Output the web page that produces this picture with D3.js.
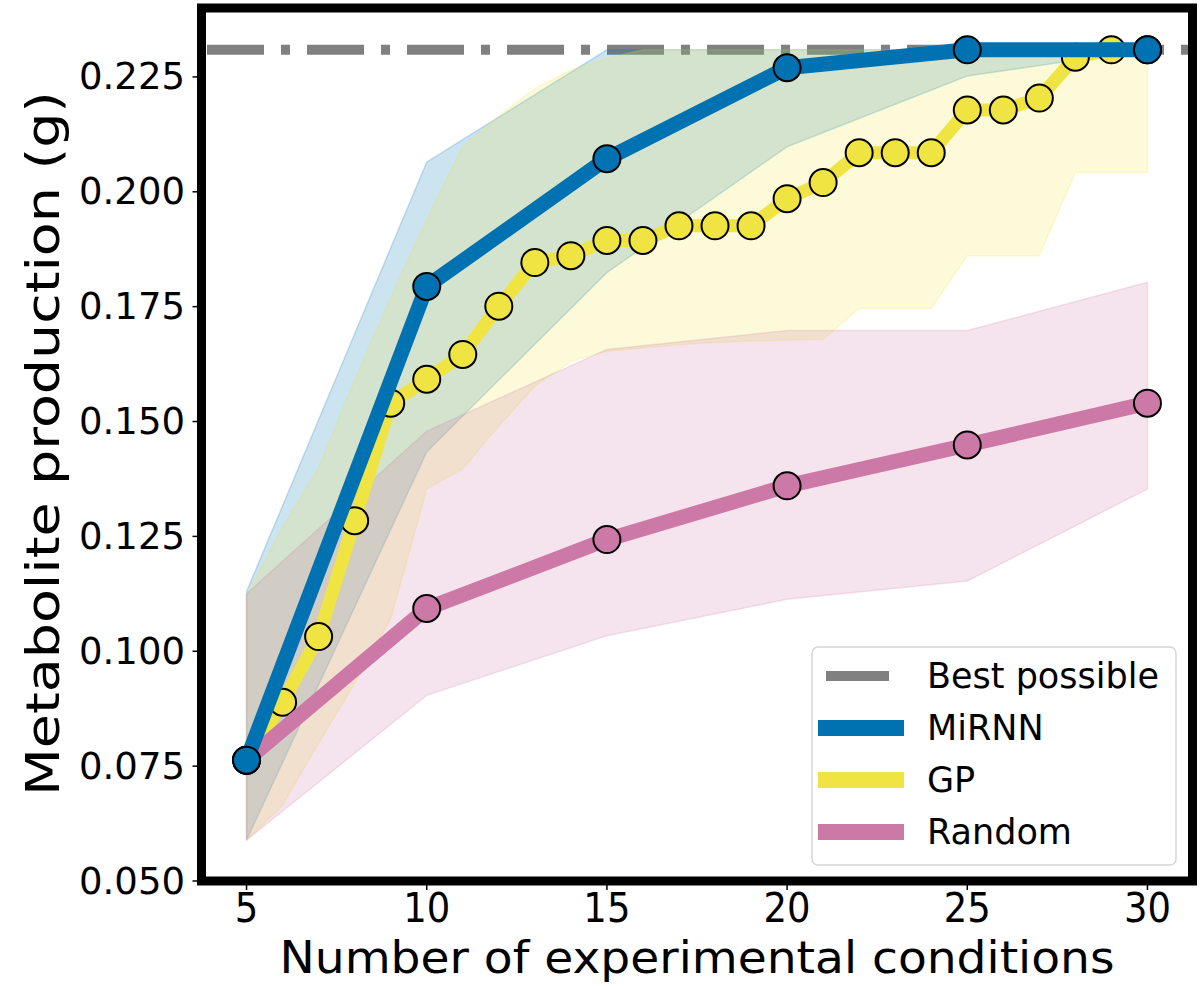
<!DOCTYPE html>
<html>
<head>
<meta charset="utf-8">
<script src="https://cdn.jsdelivr.net/npm/d3@7"></script>
<style>
  html, body { margin: 0; padding: 0; background: #fff; }
  svg { display: block; }
  text { font-family: "DejaVu Sans", sans-serif; fill: #000; }
</style>
</head>
<body>
<svg id="chart" width="1202" height="986"></svg>
<script>
// ---------------- data ----------------
const xMiRNN = [5, 10, 15, 20, 25, 30];
const miRNN     = [0.0763, 0.1794, 0.2072, 0.2270, 0.2309, 0.2309];
const miRNNLow  = [0.0589, 0.1434, 0.1824, 0.2098, 0.2252, 0.2309];
const miRNNHigh = [0.1130, 0.2065, 0.2309, 0.2309, 0.2309, 0.2309];

const xGP = [5,6,7,8,9,10,11,12,13,14,15,16,17,18,19,20,21,22,23,24,25,26,27,28,29,30];
const gp     = [0.0763,0.0889,0.1032,0.1284,0.1540,0.1592,0.1646,0.1751,0.1846,0.1861,0.1894,0.1894,0.1926,0.1926,0.1926,0.1985,0.2020,0.2085,0.2085,0.2085,0.2178,0.2178,0.2204,0.2293,0.2309,0.2309];
const gpLow  = [0.0589,0.0665,0.0800,0.0930,0.1071,0.1353,0.1397,0.1490,0.1577,0.1631,0.1653,0.1660,0.1667,0.1672,0.1675,0.1677,0.1679,0.1746,0.1746,0.1746,0.1861,0.1861,0.1861,0.2042,0.2042,0.2042];
const gpHigh = [0.1120,0.1270,0.1400,0.1590,0.1770,0.1940,0.2098,0.2165,0.2225,0.2265,0.2290,0.2309,0.2309,0.2309,0.2309,0.2309,0.2309,0.2309,0.2309,0.2309,0.2309,0.2309,0.2309,0.2309,0.2309,0.2309];

const xRandom = [5, 10, 15, 20, 25, 30];
const random     = [0.0763, 0.1093, 0.1243, 0.1360, 0.1449, 0.1540];
const randomLow  = [0.0589, 0.0904, 0.1034, 0.1113, 0.1153, 0.1353];
const randomHigh = [0.1125, 0.1479, 0.1657, 0.1698, 0.1698, 0.1803];

const bestPossible = 0.2309;

const xTicks = [5, 10, 15, 20, 25, 30];
const yTicks = [0.050, 0.075, 0.100, 0.125, 0.150, 0.175, 0.200, 0.225];
const legendLabels = ["Best possible", "MiRNN", "GP", "Random"];

// ---------------- styles ----------------
const C = { blue: "#0072B2", yellow: "#F0E442", pink: "#CC79A7", grey: "#808080" };

const svg = d3.select("#chart");
svg.append("rect").attr("width", 1202).attr("height", 986).attr("fill", "#fff");

const L = 201.5, R = 1192.5, T = 8, B = 881;
const x = d3.scaleLinear().domain([3.75, 31.25]).range([L, R]);
const y = d3.scaleLinear().domain([0.05, 0.24]).range([B, T]);

svg.append("defs").append("clipPath").attr("id", "clip")
  .append("rect").attr("x", L).attr("y", T).attr("width", R - L).attr("height", B - T);

const plot = svg.append("g").attr("clip-path", "url(#clip)");

function zipBand(xs, lo, hi) { return xs.map((d, i) => ({ x: d, lo: lo[i], hi: hi[i] })); }
function zipLine(xs, v) { return xs.map((d, i) => ({ x: d, v: v[i] })); }

const area = d3.area().x(d => x(d.x)).y0(d => y(d.lo)).y1(d => y(d.hi));
const line = d3.line().x(d => x(d.x)).y(d => y(d.v));

// best possible dash-dot line
plot.append("line")
  .attr("x1", L).attr("x2", R).attr("y1", y(bestPossible)).attr("y2", y(bestPossible))
  .attr("stroke", C.grey).attr("stroke-width", 10)
  .attr("stroke-dasharray", "57,17,9,17").attr("stroke-dashoffset", -5.5);

// bands
[[xMiRNN, miRNNLow, miRNNHigh, C.blue],
 [xGP, gpLow, gpHigh, C.yellow],
 [xRandom, randomLow, randomHigh, C.pink]].forEach(([xs, lo, hi, col]) => {
  plot.append("path").datum(zipBand(xs, lo, hi))
    .attr("d", area)
    .attr("fill", col).attr("fill-opacity", 0.2)
    .attr("stroke", col).attr("stroke-opacity", 0.2).attr("stroke-width", 1.5);
});

// lines + markers
function series(xs, vals, col, lw, r) {
  const g = plot.append("g");
  g.append("path").datum(zipLine(xs, vals)).attr("d", line)
    .attr("fill", "none").attr("stroke", col).attr("stroke-width", lw)
    .attr("stroke-linejoin", "round");
  g.selectAll("circle").data(zipLine(xs, vals)).enter().append("circle")
    .attr("cx", d => x(d.x)).attr("cy", d => y(d.v)).attr("r", r)
    .attr("fill", col).attr("stroke", "#000").attr("stroke-width", 2);
}
series(xGP, gp, C.yellow, 13, 13.5);
series(xRandom, random, C.pink, 15, 13.5);
series(xMiRNN, miRNN, C.blue, 15, 13.5);

// ticks
const axG = svg.append("g");
xTicks.forEach(t => {
  axG.append("line").attr("x1", x(t)).attr("x2", x(t)).attr("y1", B).attr("y2", B + 9)
    .attr("stroke", "#000").attr("stroke-width", 1.5);
  axG.append("text").attr("x", x(t)).attr("y", 0).attr("text-anchor", "middle")
    .attr("transform", "translate(0, 922) scale(1, 1.12)")
    .attr("font-size", 37).text(d3.format("d")(t));
});
yTicks.forEach(t => {
  axG.append("line").attr("x1", L - 9).attr("x2", L).attr("y1", y(t)).attr("y2", y(t))
    .attr("stroke", "#000").attr("stroke-width", 1.5);
  axG.append("text").attr("x", 185).attr("y", y(t)).attr("text-anchor", "end")
    .attr("dominant-baseline", "central").attr("font-size", 37).text(d3.format(".3f")(t));
});

// frame
svg.append("rect").attr("x", L).attr("y", T).attr("width", R - L).attr("height", B - T)
  .attr("fill", "none").attr("stroke", "#000").attr("stroke-width", 9);

// axis labels
svg.append("text").attr("x", (L + R) / 2).attr("y", 973).attr("text-anchor", "middle")
  .attr("font-size", 45).attr("textLength", 835).attr("lengthAdjust", "spacingAndGlyphs")
  .text("Number of experimental conditions");
svg.append("text").attr("transform", `translate(59, ${(T + B) / 2 - 1}) rotate(-90)`)
  .attr("text-anchor", "middle").attr("font-size", 46)
  .attr("textLength", 705).attr("lengthAdjust", "spacingAndGlyphs")
  .text("Metabolite production (g)");

// legend
const lg = svg.append("g");
lg.append("rect").attr("x", 812).attr("y", 647).attr("width", 364).attr("height", 218)
  .attr("rx", 6).attr("fill", "#fff").attr("fill-opacity", 0.8)
  .attr("stroke", "#d6d6d6").attr("stroke-width", 1.5);
const legendColors = [C.grey, C.blue, C.yellow, C.pink];
const legendY = [676, 728, 780, 832];
legendLabels.forEach((lab, i) => {
  if (i === 0) {
    lg.append("line").attr("x1", 826).attr("x2", 889).attr("y1", legendY[i]).attr("y2", legendY[i])
      .attr("stroke", legendColors[i]).attr("stroke-width", 10);
  } else {
    lg.append("line").attr("x1", 818).attr("x2", 904).attr("y1", legendY[i]).attr("y2", legendY[i])
      .attr("stroke", legendColors[i]).attr("stroke-width", 16);
  }
  lg.append("text").attr("x", 927).attr("y", legendY[i]).attr("dominant-baseline", "central")
    .attr("font-size", 35).text(lab);
});
</script>
</body>
</html>
